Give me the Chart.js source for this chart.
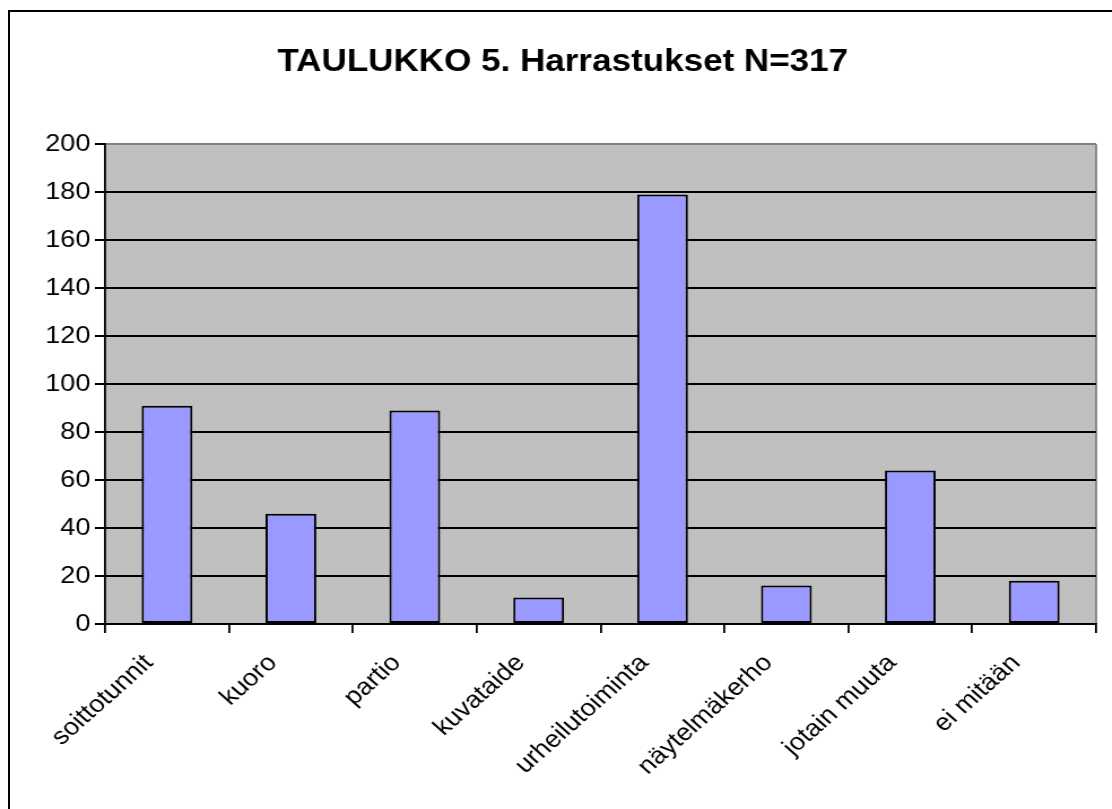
<!DOCTYPE html>
<html>
<head>
<meta charset="utf-8">
<script src="https://cdn.jsdelivr.net/npm/chart.js@4.4.1/dist/chart.umd.min.js"></script>
<style>
  html, body { margin: 0; padding: 0; background: #fff; overflow: hidden; }
  #frame { position: absolute; left: 8px; top: 10px; width: 1200px; height: 900px; border: 2px solid #000; }
  #wrap { position: absolute; left: 0; top: 0; width: 984px; height: 809px; transform: scaleX(1.13); transform-origin: 0 0; }
</style>
</head>
<body>
<div id="frame"></div>
<div id="wrap"><canvas id="c" width="984" height="809"></canvas></div>
<script>
const titleText = 'TAULUKKO 5. Harrastukset N=317';
const categories = ['soittotunnit', 'kuoro', 'partio', 'kuvataide', 'urheilutoiminta', 'näytelmäkerho', 'jotain muuta', 'ei mitään'];
const counts = [91, 46, 89, 11, 179, 16, 64, 18];
const yMin = 0, yMax = 200, yStep = 20;

const FONT = '"Liberation Sans", Arial, sans-serif';

const plotBg = {
  id: 'plotBg',
  beforeDraw(chart) {
    const { ctx, chartArea: a } = chart;
    ctx.save();
    ctx.fillStyle = '#C0C0C0';
    ctx.fillRect(a.left, a.top, a.right - a.left, a.bottom - a.top);
    ctx.strokeStyle = '#808080';
    ctx.lineWidth = 1.8;
    ctx.beginPath();
    ctx.moveTo(a.right, a.top);
    ctx.lineTo(a.right, a.bottom);
    ctx.stroke();
    ctx.restore();
  }
};

new Chart(document.getElementById('c'), {
  type: 'bar',
  data: {
    labels: categories,
    datasets: [{
      data: counts,
      backgroundColor: '#9999FF',
      borderColor: '#000',
      borderWidth: 2,
      borderSkipped: false,
      categoryPercentage: 1,
      barPercentage: 0.41
    }]
  },
  options: {
    responsive: false,
    animation: false,
    devicePixelRatio: 1,
    layout: { padding: { left: 26, right: 14, top: 0, bottom: 0 } },
    plugins: {
      legend: { display: false },
      tooltip: { enabled: false },
      title: {
        display: true,
        text: titleText,
        color: '#000',
        font: { family: FONT, size: 31, weight: 'bold', lineHeight: 1.2 },
        padding: { top: 44, bottom: 63 }
      }
    },
    scales: {
      x: {
        grid: { display: true, drawOnChartArea: false, drawTicks: true, tickLength: 9, color: '#000', lineWidth: 1.8, offset: true },
        border: { display: true, color: '#000', width: 2 },
        ticks: {
          color: '#000',
          font: { family: FONT, size: 24 },
          minRotation: 45,
          maxRotation: 45,
          padding: 16,
          labelOffset: -16,
          autoSkip: false
        },
        afterFit(scale) { scale.height = 809 - 624; }
      },
      y: {
        min: yMin,
        max: yMax,
        grid: {
          color: (c) => (c.tick && c.tick.value === yMax ? '#808080' : '#000'),
          lineWidth: 2,
          tickLength: 9,
          tickColor: '#000',
          drawTicks: true
        },
        border: { display: true, color: '#000', width: 1.8 },
        ticks: {
          stepSize: yStep,
          color: '#000',
          font: { family: FONT, size: 24 },
          padding: 4
        },
        afterFit(scale) { scale.width = 67; }
      }
    }
  },
  plugins: [plotBg]
});
</script>
</body>
</html>
